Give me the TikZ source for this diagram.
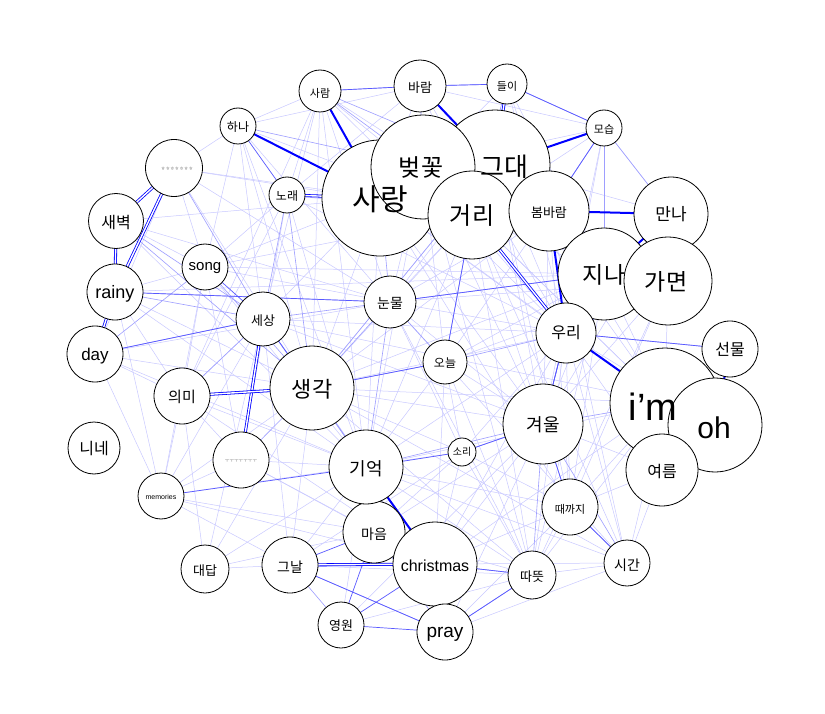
\documentclass[tikz,border=0pt]{standalone}
\usepackage{fontspec}
\setmainfont{Liberation Sans}
\newfontfamily\kr{Noto Sans CJK KR}
\usetikzlibrary{backgrounds}
\newcommand\sz[1]{\fontsize{#1}{#1}\selectfont}
\tikzset{
  vx/.style={circle, draw=black, fill=white, inner sep=0pt, line width=0.8pt, minimum size=#1},
  lb/.style={inner sep=0pt, font=\kr\sz{#1}},
  ll/.style={inner sep=0pt, font=\sz{#1}},
  e1/.style={draw=blue!21, line width=0.5pt},
  e2/.style={draw=blue!38, line width=0.6pt},
  e3/.style={draw=blue!65, line width=0.7pt},
  e5/.style={draw=blue, line width=2pt},
  ed/.style={draw=blue, line width=0.8pt, double=white, double distance=1.4pt},
}
\begin{document}
\begin{tikzpicture}[x=1pt, y=-1pt]
\useasboundingbox (0,0) rectangle (825,714);

% word circles, back to front
\node[vx=116pt] (sarang) at (380,198) {};
\node[vx=110pt] (geudae) at (495,165) {};
\node[vx=104pt] (beot) at (423,167) {};
\node[vx=88pt] (geori) at (472,215) {};
\node[vx=80pt] (bom) at (549,211) {};
\node[vx=92pt] (jina) at (604,274) {};
\node[vx=74pt] (manna) at (671,214) {};
\node[vx=88pt] (gamyeon) at (668,281) {};
\node[vx=56pt] (seonmul) at (730,349) {};
\node[vx=110pt] (im) at (665,403) {};
\node[vx=94pt] (oh) at (715,425) {};
\node[vx=72pt] (yeoreum) at (662,470) {};
\node[vx=60pt] (uri) at (566,333) {};
\node[vx=80pt] (gyeoul) at (543,424) {};
\node[vx=28pt] (sori) at (462,452) {};
\node[vx=56pt] (ttae) at (570,507) {};
\node[vx=46pt] (sigan) at (627,563) {};
\node[vx=48pt] (ttat) at (532,575) {};
\node[vx=62pt] (maeum) at (374,532) {};
\node[vx=84pt] (xmas) at (435,564) {};
\node[vx=56pt] (pray) at (445,632) {};
\node[vx=46pt] (yeong) at (341,625) {};
\node[vx=56pt] (geunal) at (290,565) {};
\node[vx=74pt] (giok) at (366,467) {};
\node[vx=48pt] (daedap) at (205,569) {};
\node[vx=46pt] (mem) at (161,496) {};
\node[vx=56pt] (uimi) at (182,396) {};
\node[vx=56pt] (uu) at (241,460) {};
\node[vx=52pt] (nine) at (94,448) {};
\node[vx=56pt] (day) at (95,354) {};
\node[vx=56pt] (rainy) at (115,292) {};
\node[vx=55pt] (saebyeok) at (116,221) {};
\node[vx=46pt] (song) at (205,267) {};
\node[vx=54pt] (sesang) at (263,319) {};
\node[vx=84pt] (saeng) at (312,388) {};
\node[vx=52pt] (nunmul) at (390,302) {};
\node[vx=44pt] (oneul) at (445,362) {};
\node[vx=36pt] (norae) at (287,195) {};
\node[vx=36pt] (hana) at (238,126) {};
\node[vx=42pt] (saram) at (320,91) {};
\node[vx=52pt] (baram) at (420,86) {};
\node[vx=40pt] (deuri) at (507,84) {};
\node[vx=36pt] (moseup) at (604,128) {};
\node[vx=57pt] (tiny) at (174,168) {};

% word labels, above every circle
\node[lb=30] (sarang-t) at (380,199) {사랑};
\node[lb=26] (geudae-t) at (504,167) {그대};
\node[lb=24] (beot-t) at (421,167) {벚꽃};
\node[lb=24] (geori-t) at (472,216) {거리};
\node[lb=13] (bom-t) at (549,213) {봄바람};
\node[lb=23] (jina-t) at (604,275) {지나};
\node[lb=17] (manna-t) at (671,214) {만나};
\node[lb=23] (gamyeon-t) at (666,282) {가면};
\node[lb=16] (seonmul-t) at (730,349) {선물};
\node[ll=38] (im-t) at (653,407) {i’m};
\node[ll=30] (oh-t) at (714,428) {oh};
\node[lb=16] (yeoreum-t) at (662,472) {여름};
\node[lb=16] (uri-t) at (566,333) {우리};
\node[lb=18] (gyeoul-t) at (543,425) {겨울};
\node[lb=10] (sori-t) at (462,452) {소리};
\node[lb=11] (ttae-t) at (570,509) {때까지};
\node[lb=14] (sigan-t) at (627,565) {시간};
\node[lb=13] (ttat-t) at (532,577) {따뜻};
\node[lb=14] (maeum-t) at (374,534) {마음};
\node[ll=16] (xmas-t) at (435,566) {christmas};
\node[ll=19] (pray-t) at (445,634) {pray};
\node[lb=13] (yeong-t) at (341,626) {영원};
\node[lb=14] (geunal-t) at (290,567) {그날};
\node[lb=18] (giok-t) at (366,469) {기억};
\node[lb=13] (daedap-t) at (205,571) {대답};
\node[ll=7] (mem-t) at (161,497) {memories};
\node[lb=15] (uimi-t) at (182,397) {의미};
\node[lb=5, text=gray] (uu-t) at (241,461) {ㅜㅜㅜㅜㅜㅜㅜ};
\node[lb=16] (nine-t) at (94,449) {니네};
\node[ll=17] (day-t) at (95,356) {day};
\node[ll=18] (rainy-t) at (115,294) {rainy};
\node[lb=16] (saebyeok-t) at (116,223) {새벽};
\node[ll=15] (song-t) at (205,268) {song};
\node[lb=13] (sesang-t) at (263,321) {세상};
\node[lb=22] (saeng-t) at (312,389) {생각};
\node[lb=14] (nunmul-t) at (390,303) {눈물};
\node[lb=12] (oneul-t) at (445,363) {오늘};
\node[lb=12] (norae-t) at (287,196) {노래};
\node[lb=12] (hana-t) at (238,127) {하나};
\node[lb=11] (saram-t) at (320,93) {사람};
\node[lb=13] (baram-t) at (420,88) {바람};
\node[lb=11] (deuri-t) at (507,86) {들이};
\node[lb=11] (moseup-t) at (604,129) {모습};
\node[lb=5, text=gray] (tiny-t) at (177,169) {ㅎㅎㅎㅎㅎㅎㅎ};

\begin{pgfonlayer}{background}
\fill[white] (0,0) rectangle (825,714);
% faint co-occurrence links
\foreach \a/\b in {
 saram/sesang, saram/saeng, saram/norae, saram/hana, saram/giok, saram/uimi,
 hana/sesang, hana/saeng, hana/song, hana/tiny, hana/giok, norae/uimi, norae/song,
 norae/uu, norae/giok, tiny/sarang, tiny/song, tiny/day, tiny/nunmul,
 saebyeok/song, saebyeok/sarang, rainy/song, rainy/uimi, rainy/mem, rainy/saeng,
 day/uimi, day/mem, day/saeng, day/nunmul, song/uimi, song/nunmul, song/uu,
 song/mem, sesang/uimi, sesang/mem, sesang/daedap, sesang/geunal,
 uimi/mem, uimi/giok, uimi/uu, uimi/daedap, uu/giok, uu/mem, mem/saeng,
 mem/maeum, mem/xmas, mem/sori, daedap/giok, daedap/saeng, daedap/maeum,
 geunal/giok, geunal/saeng, geunal/ttat, geunal/sori, yeong/ttat, yeong/giok,
 yeong/gyeoul, pray/giok, pray/sigan, pray/gyeoul, pray/ttae, xmas/gyeoul,
 xmas/sori, xmas/sigan, xmas/ttae, xmas/uri, xmas/im, xmas/oneul, xmas/saeng,
 maeum/ttat, maeum/gyeoul, maeum/sori, giok/uri, giok/oneul, giok/ttat,
 giok/sigan, giok/ttae, giok/im, giok/geori, sori/uri, sori/oneul, sori/ttat,
 sori/ttae, sori/nunmul, sori/saeng, oneul/gyeoul, oneul/jina, oneul/gamyeon,
 oneul/bom, oneul/ttat, nunmul/geori, nunmul/bom, nunmul/gamyeon, nunmul/uri,
 nunmul/gyeoul, saeng/sarang, saeng/geori, saeng/uri, saeng/gyeoul, saeng/im,
 saeng/bom, saeng/jina, sarang/uri, sarang/gyeoul, sarang/giok, sarang/sesang,
 sarang/song, beot/uri, beot/gyeoul, beot/giok, beot/nunmul, beot/oneul,
 beot/jina, beot/moseup, geudae/uri, geudae/jina, geudae/gyeoul, geudae/nunmul,
 geudae/saeng, geudae/manna, geori/gyeoul, geori/jina, geori/gamyeon, geori/ttat,
 geori/im, bom/gyeoul, bom/jina, bom/im, bom/ttae, bom/gamyeon, manna/gamyeon,
 manna/uri, jina/gyeoul, jina/ttae, jina/im, gamyeon/gyeoul, gamyeon/ttae,
 gamyeon/im, uri/ttae, uri/ttat, uri/sigan, uri/yeoreum, uri/oh, im/ttat,
 im/sigan, im/ttae, im/oh, yeoreum/sigan, yeoreum/ttae, yeoreum/gyeoul,
 ttat/ttae, ttat/sigan, moseup/uri, moseup/geori, moseup/manna, deuri/beot,
 deuri/jina, deuri/bom, baram/geori, baram/sarang, baram/moseup, baram/norae,
 baram/hana, saram/nunmul, hana/nunmul, tiny/saeng, saebyeok/nunmul,
 saebyeok/giok, rainy/giok, day/giok, song/giok, uu/xmas, uu/maeum,
 uimi/xmas, mem/geunal, daedap/geunal, sesang/xmas, norae/geori, hana/geori,
 saram/geori, saram/uri, norae/uri, sesang/uri, sesang/gyeoul, sesang/im,
 song/geori, song/jina, rainy/jina, tiny/geori, saeng/ttat, saeng/sigan,
 nunmul/ttat, nunmul/sigan, geori/sigan, bom/sigan, jina/ttat, gamyeon/ttat,
 manna/gyeoul, moseup/gyeoul, deuri/uri, baram/uri, baram/jina, beot/im,
 geudae/im, sarang/im, sarang/ttae, beot/ttat, geudae/ttae, saram/jina}
 \draw[e1] (\a.center) -- (\b.center);
% medium links
\foreach \a/\b in {
 saram/beot, saram/geudae, hana/beot, norae/sesang, norae/saeng, tiny/sesang,
 saebyeok/sesang, saebyeok/saeng, rainy/sesang, day/song, song/saeng,
 sesang/nunmul, sesang/giok, uu/saeng, uimi/sesang, oneul/nunmul, giok/nunmul,
 giok/gyeoul, sori/gyeoul, maeum/xmas, pray/maeum, yeong/geunal, geudae/saeng,
 beot/geori, deuri/geori, moseup/jina, moseup/bom, manna/moseup, baram/beot,
 sarang/nunmul, sarang/geori, geori/oneul, bom/uri, jina/uri, gamyeon/uri,
 gyeoul/ttae, gyeoul/ttat, gyeoul/sigan, gyeoul/im, uri/im, yeoreum/im,
 ttae/sigan, xmas/ttat, pray/ttat, giok/saeng, saeng/oneul, saeng/nunmul,
 day/sesang, rainy/nunmul, nunmul/jina, geunal/pray, uri/seonmul, oneul/uri,
 gyeoul/uri, deuri/moseup, baram/deuri, saram/baram}
 \draw[e2] (\a.center) -- (\b.center);
% strong links
\foreach \a/\b in {
 saram/baram, baram/deuri, deuri/moseup, moseup/bom, moseup/geudae, jina/uri,
 geori/uri, nunmul/jina, rainy/nunmul, day/sesang, saeng/oneul, oneul/geori,
 gyeoul/uri, sori/giok, ttae/sigan, ttae/gyeoul, xmas/ttat, geunal/pray,
 pray/yeong, maeum/geunal, maeum/yeong, yeong/xmas, mem/giok, uri/seonmul,
 song/sesang, hana/norae, manna/jina, gamyeon/uri, ttat/pray, giok/maeum,
 sesang/saeng, uri/gyeoul, sori/gyeoul}
 \draw[e3] (\a.center) -- (\b.center);
% heaviest links
\foreach \a/\b in {saram/sarang, hana/sarang, geudae/baram, geudae/moseup,
 bom/manna, uri/im, giok/xmas, bom/uri, manna/jina, seonmul/oh}
 \draw[e5] (\a.center) -- (\b.center);
\foreach \a/\b in {norae/sarang, deuri/geudae, geunal/xmas, saebyeok/rainy,
 rainy/day, tiny/rainy, tiny/saebyeok, sesang/uu, uimi/saeng, geori/uri}
 \draw[ed] (\a.center) -- (\b.center);
\end{pgfonlayer}
\end{tikzpicture}
\end{document}
